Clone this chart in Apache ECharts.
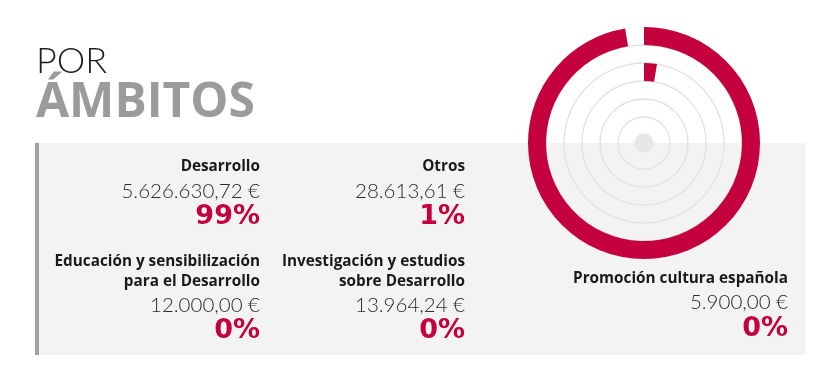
<!DOCTYPE html>
<html>
<head>
<meta charset="utf-8">
<script src="https://cdn.jsdelivr.net/npm/echarts@6/dist/echarts.min.js"></script>
<style>
html,body{margin:0;padding:0;background:#fff;}
#chart{width:829px;height:386px;}
</style>
</head>
<body>
<div id="chart"></div>
<script>
// ---- data ----
var titleLine1 = 'POR';
var titleLine2 = 'ÁMBITOS';
var categories = ['Desarrollo', 'Otros', 'Educación y sensibilización\npara el Desarrollo', 'Investigación y estudios\nsobre Desarrollo', 'Promoción cultura española'];
var amounts = ['5.626.630,72 €', '28.613,61 €', '12.000,00 €', '13.964,24 €', '5.900,00 €'];
var percents = ['99%', '1%', '0%', '0%', '0%'];
// rings, outermost first; arc length in % of the full circle, as drawn
var ringCategories = ['Desarrollo', 'Educación y sensibilización para el Desarrollo', 'Otros', 'Investigación y estudios sobre Desarrollo', 'Promoción cultura española'];
var ringValues = [97.4, 0, 2.6, 0, 0];
var gridSteps = [0, 1, 2, 3, 4];

// ---- layout (styles / positions only) ----
var CX = 644, CY = 143;
var RED = '#c4003e';
var blocks = [
  {x: 260, y: [167, 191, 217]},
  {x: 465, y: [167, 191, 217]},
  {x: 260, y: [262, 305, 331], lh: 20},
  {x: 465, y: [262, 305, 331], lh: 20},
  {x: 788, y: [278.5, 302.5, 328.5]}
];

var graphics = [
  {type: 'rect', shape: {x: 35, y: 143, width: 770, height: 212}, style: {fill: '#f3f3f3'}, z: -10},
  {type: 'rect', shape: {x: 35, y: 143, width: 4, height: 212}, style: {fill: '#a3a3a3'}, z: -9},
  {type: 'circle', shape: {cx: CX, cy: CY, r: 9.7}, style: {fill: '#e7e7e7'}, z: 1},
  {type: 'text', x: 36, y: 61, style: {text: titleLine1, font: '300 36px Lato', fill: '#1e1e1e', verticalAlign: 'middle'}},
  {type: 'text', x: 36, y: 103, style: {text: titleLine2, font: 'bold 48px "Open Sans"', fill: '#9b9b9b', verticalAlign: 'middle'}}
];

categories.forEach(function (c, i) {
  var b = blocks[i];
  var lines = c.split('\n');
  var nameY = b.y[0];
  lines.forEach(function (ln, j) {
    graphics.push({type: 'text', x: b.x, y: nameY + j * (b.lh || 0), style: {text: ln, font: 'bold 15.3px "Open Sans"', fill: '#1a1a1a', align: 'right', verticalAlign: 'middle'}});
  });
  graphics.push({type: 'text', x: b.x, y: b.y[1], style: {text: amounts[i], font: '300 20.5px Lato', fill: '#2b2b2b', align: 'right', verticalAlign: 'middle'}});
  graphics.push({type: 'text', x: b.x, y: b.y[2], style: {text: percents[i], font: 'bold 27px "DejaVu Sans"', fill: RED, align: 'right', verticalAlign: 'middle'}});
});

var chart = echarts.init(document.getElementById('chart'));
chart.setOption({
  animation: false,
  polar: [
    {center: [CX, CY], radius: [26, 116]},
    {center: [CX, CY], radius: [26, 98]}
  ],
  angleAxis: [
    {polarIndex: 0, type: 'value', min: 0, max: 100, startAngle: 90, clockwise: true, show: false},
    {polarIndex: 1, type: 'value', min: 0, max: 100, startAngle: 90, show: false}
  ],
  radiusAxis: [
    {polarIndex: 0, type: 'category', data: ringCategories, inverse: true,
      axisLine: {show: false}, axisTick: {show: false}, axisLabel: {show: false}, splitLine: {show: false}},
    {polarIndex: 1, type: 'value', min: gridSteps[0], max: gridSteps[gridSteps.length - 1], interval: 1,
      axisLine: {show: false}, axisTick: {show: false}, axisLabel: {show: false},
      splitLine: {show: true, lineStyle: {color: '#e2e2e2', width: 1.3}}}
  ],
  series: [{
    type: 'bar',
    coordinateSystem: 'polar',
    polarIndex: 0,
    data: ringValues,
    barCategoryGap: '0%',
    itemStyle: {color: RED},
    z: 3
  }],
  graphic: graphics
});
</script>
</body>
</html>
